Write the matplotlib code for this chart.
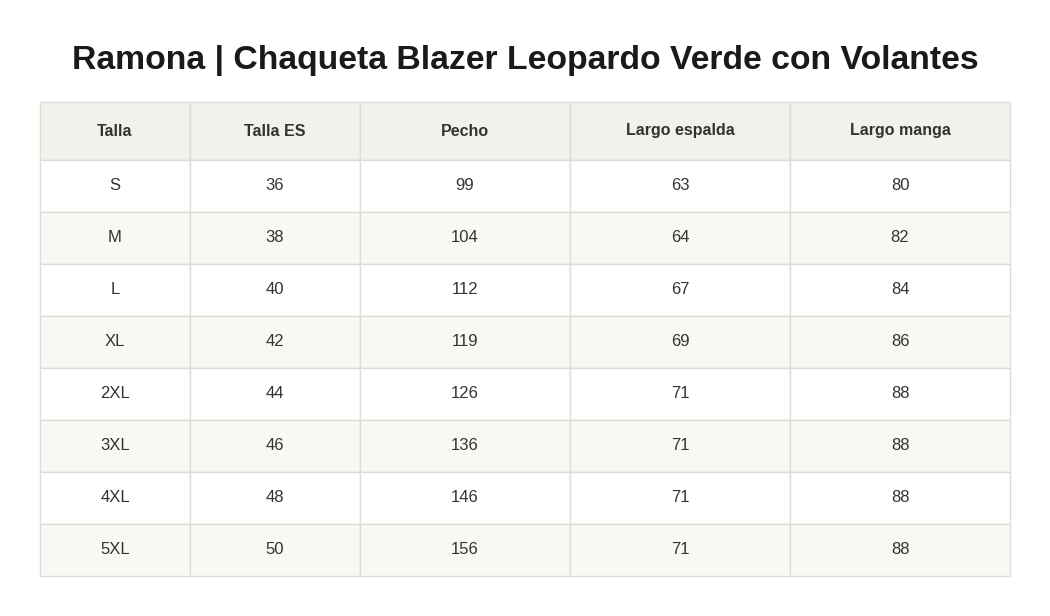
import matplotlib
matplotlib.use('Agg')
import matplotlib.pyplot as plt
from matplotlib.patches import Rectangle

TITLE = "Ramona | Chaqueta Blazer Leopardo Verde con Volantes"
HEADERS = ["Talla", "Talla ES", "Pecho", "Largo espalda", "Largo manga"]
TALLA = ["S", "M", "L", "XL", "2XL", "3XL", "4XL", "5XL"]
TALLA_ES = [36, 38, 40, 42, 44, 46, 48, 50]
PECHO = [99, 104, 112, 119, 126, 136, 146, 156]
ESPALDA = [63, 64, 67, 69, 71, 71, 71, 71]
MANGA = [80, 82, 84, 86, 88, 88, 88, 88]

# layout in pixels
col_edges = [40, 190, 360, 570, 790, 1010]
top, head_h, row_h = 102, 58, 52
border = '#dddcd6'

fig = plt.figure(figsize=(10.5, 6.16), dpi=100)
ax = fig.add_axes([0, 0, 1, 1])
ax.set_xlim(0, 1050); ax.set_ylim(616, 0); ax.axis('off')

ax.text(525, 60, TITLE, ha='center', va='center', fontsize=24.3,
        fontweight='bold', color='#1a1a1a', family='Liberation Sans')

def draw_row(y, h, cells, bg, bold=False):
    for i, txt in enumerate(cells):
        x0, x1 = col_edges[i], col_edges[i + 1]
        ax.add_patch(Rectangle((x0, y), x1 - x0, h, facecolor=bg,
                               edgecolor=border, lw=1))
        ax.text((x0 + x1) / 2, y + h / 2, str(txt), ha='center', va='center',
                fontsize=12 if not bold else 11.5, color='#333333',
                fontweight='bold' if bold else 'normal', family='Liberation Sans')

draw_row(top, head_h, HEADERS, '#f2f1ec', bold=True)
rows = list(zip(TALLA, TALLA_ES, PECHO, ESPALDA, MANGA))
for r, cells in enumerate(rows):
    bg = '#ffffff' if r % 2 == 0 else '#f9f8f4'
    draw_row(top + head_h + r * row_h, row_h, cells, bg)

fig.savefig('out.png', dpi=100, facecolor='white')
